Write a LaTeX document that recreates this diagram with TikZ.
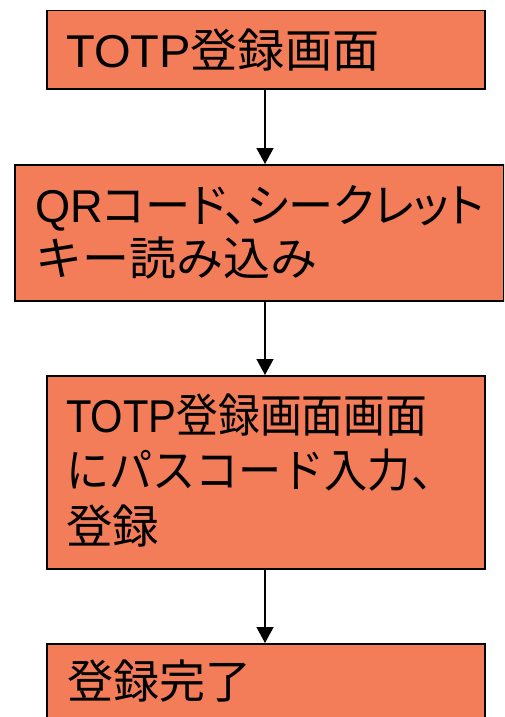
\documentclass[tikz,border=0pt]{standalone}
\usepackage{fontspec}
\usepackage{graphicx}
\setmainfont{Liberation Sans}
\newfontfamily\cjk{Noto Sans CJK JP}
\newfontfamily\cjkp[RawFeature=+palt]{Noto Sans CJK JP}
\usetikzlibrary{arrows.meta}
\definecolor{boxfill}{RGB}{243,124,89}
\tikzset{
  stepbox/.style={draw=black, line width=1.5pt, fill=boxfill, rectangle, inner sep=0pt, anchor=north west},
  lbl/.style={anchor=base west, inner sep=0pt, font=\fontsize{46pt}{56pt}\selectfont},
  flow/.style={draw=black, line width=1.3pt, -{Triangle[length=16pt,width=17pt]}}
}
\begin{document}
\begin{tikzpicture}[x=1pt,y=-1pt]
\useasboundingbox (0,0) rectangle (504,717);
\clip (0,0) rectangle (504,717);
% boxes
\node[stepbox, minimum width=438pt, minimum height=78pt] (b1) at (46,10) {};
\node[stepbox, minimum width=489pt, minimum height=136pt] (b2) at (14,164) {};
\node[stepbox, minimum width=438pt, minimum height=193pt] (b3) at (46,375) {};
\node[stepbox, minimum width=438pt, minimum height=100pt] (b4) at (46,643) {};
% texts
\node[lbl] (t1) at (66,67) {\resizebox{313pt}{\height}{TOTP{\cjk 登録画面}}};
\node[lbl] (t2a) at (35,222) {\resizebox{449pt}{\height}{QR{\cjkp コード、シークレット}}};
\node[lbl] (t2b) at (35,275) {\resizebox{282pt}{\height}{\cjk キー読み込み}};
\node[lbl] (t3a) at (66,432) {\resizebox{361pt}{\height}{TOTP{\cjk 登録画面画面}}};
\node[lbl] (t3b) at (66,487) {\resizebox{388pt}{\height}{\cjk にパスコード入力、}};
\node[lbl] (t3c) at (66,543) {\resizebox{93pt}{\height}{\cjk 登録}};
\node[lbl] (t4) at (67,698) {\resizebox{184pt}{\height}{\cjk 登録完了}};
% connectors
\coordinate (a1s) at (265,88);
\coordinate (a1e) at (265,164);
\coordinate (a2s) at (265,300);
\coordinate (a2e) at (265,375);
\coordinate (a3s) at (265,568);
\coordinate (a3e) at (265,643);
\draw[flow] (b1.south -| a1s) -- (b2.north -| a1e);
\draw[flow] (b2.south -| a2s) -- (b3.north -| a2e);
\draw[flow] (b3.south -| a3s) -- (b4.north -| a3e);
\end{tikzpicture}
\end{document}
